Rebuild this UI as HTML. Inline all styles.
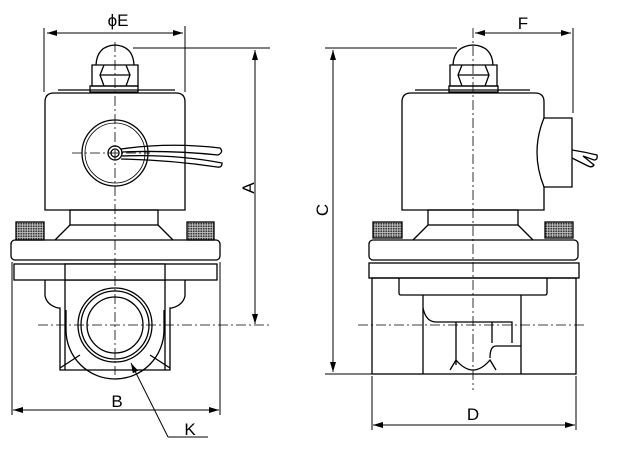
<!DOCTYPE html>
<html><head><meta charset="utf-8"><style>
html,body{margin:0;padding:0;background:#fff}
svg{display:block}
text{font-family:"Liberation Sans",sans-serif;fill:#000}
</style></head><body>
<svg width="621" height="463" viewBox="0 0 621 463" xmlns="http://www.w3.org/2000/svg">
<defs>
<pattern id="kn" width="2.5" height="2.5" patternUnits="userSpaceOnUse"><rect width="2.5" height="2.5" fill="#bbb"/><circle cx="1.25" cy="1.25" r="0.9" fill="#333"/></pattern>
<marker id="ar" viewBox="0 0 10 6" refX="10" refY="3" markerWidth="10" markerHeight="6" orient="auto-start-reverse" markerUnits="userSpaceOnUse"><path d="M0,0L10,3L0,6z" fill="#000"/></marker>
</defs>
<g fill="none" stroke="#000" stroke-width="1.3">
<line x1="44" y1="28" x2="44" y2="92" stroke-width="1"/>
<line x1="185" y1="26" x2="185" y2="92" stroke-width="1"/>
<line x1="47" y1="33" x2="183" y2="33" stroke-width="1" marker-start="url(#ar)" marker-end="url(#ar)"/>
<line x1="133" y1="48" x2="270" y2="48" stroke-width="1"/>
<line x1="255" y1="50" x2="255" y2="324" stroke-width="1" marker-start="url(#ar)" marker-end="url(#ar)"/>
<line x1="12" y1="262" x2="12" y2="415" stroke-width="1"/>
<line x1="220" y1="262" x2="220" y2="415" stroke-width="1"/>
<line x1="13" y1="410" x2="219" y2="410" stroke-width="1" marker-start="url(#ar)" marker-end="url(#ar)"/>
<polyline points="168,437 208,437" stroke-width="1"/>
<line x1="168" y1="437" x2="131" y2="363" stroke-width="1" marker-end="url(#ar)"/>
<path d="M96,65 Q97,46 115,45 Q133,46 134,65"/>
<path d="M92,65 H138 V86 H92 Z M104,65 L100,75 L104,86 M126,65 L130,75 L126,86 M100,75 H130"/>
<rect x="90" y="86" width="48" height="6"/>
<line x1="58" y1="90" x2="175" y2="90"/>
<path d="M45,210 V102 Q45,93 54,93 H176 Q185,93 185,102 V210 Z"/>
<circle cx="115" cy="153" r="33"/>
<circle cx="115" cy="153" r="30" stroke-width="0.8"/>
<circle cx="115" cy="153" r="7"/>
<circle cx="115" cy="153" r="4"/>
<path d="M121,149 Q170,142 220,148 Q224,152 218,155 Q170,150 122,152"/>
<path d="M122,156 Q175,154 222,163 Q222,168 217,167 Q170,160 121,159"/>
<rect x="70" y="210" width="88" height="15"/>
<path d="M70,225 L55,240 M158,225 L173,240"/>
<rect x="16" y="222" width="28" height="18" fill="url(#kn)"/>
<rect x="187" y="222" width="27" height="18" fill="url(#kn)"/>
<rect x="11" y="240" width="209" height="20" rx="4"/>
<rect x="14" y="264" width="203" height="16"/>
<rect x="65" y="264" width="100" height="16" fill="#fff"/>
<path d="M45,280 V296 Q47,305 58,308 H60 V370 H170 V308 H172 Q183,305 185,296 V280"/>
<path d="M65,280 V370 M165,280 V370"/>
<path d="M66,310 V330 A49,49 0 0 0 164,330 V310"/>
<path d="M60,368 L80,355 M170,368 L150,355"/>
<circle cx="115" cy="325" r="37"/>
<circle cx="115" cy="325" r="34"/>
<circle cx="115" cy="325" r="28"/>
<line x1="573" y1="28" x2="573" y2="113" stroke-width="1"/>
<line x1="475" y1="33" x2="571" y2="33" stroke-width="1" marker-start="url(#ar)" marker-end="url(#ar)"/>
<line x1="325" y1="48" x2="457" y2="48" stroke-width="1"/>
<line x1="325" y1="374" x2="372" y2="374" stroke-width="1"/>
<line x1="333" y1="50" x2="333" y2="372" stroke-width="1" marker-start="url(#ar)" marker-end="url(#ar)"/>
<line x1="372" y1="376" x2="372" y2="430" stroke-width="1"/>
<line x1="576" y1="376" x2="576" y2="430" stroke-width="1"/>
<line x1="373" y1="425" x2="575" y2="425" stroke-width="1" marker-start="url(#ar)" marker-end="url(#ar)"/>
<path d="M453,65 Q454,46 473,45 Q492,46 493,65"/>
<path d="M450,65 H497 V86 H450 Z M462,65 L458,75 L462,86 M485,65 L489,75 L485,86 M458,75 H489"/>
<rect x="449" y="86" width="49" height="6"/>
<line x1="415" y1="90" x2="530" y2="90"/>
<path d="M402,210 V102 Q402,93 411,93 H535 Q544,93 544,102 V210 Z"/>
<path d="M544,118 H572 V187 H544 Q530,152 544,118 Z" fill="#fff"/>
<path d="M572,150 Q585,152 597,155 Q598,160 594,160 L583,156 L594,165 Q592,168 588,166 L572,158"/>
<rect x="428" y="210" width="90" height="15"/>
<path d="M428,225 L413,240 M518,225 L533,240"/>
<rect x="373" y="222" width="29" height="16" fill="url(#kn)"/>
<rect x="545" y="222" width="28" height="16" fill="url(#kn)"/>
<rect x="369" y="240" width="209" height="20" rx="4"/>
<rect x="369" y="263" width="210" height="15"/>
<rect x="372" y="278" width="204" height="96"/>
<path d="M399,278 V293 Q399,295 401,295 H545 Q547,295 547,293 V278"/>
<path d="M423,295 V374 M521,295 V374"/>
<path d="M423,308 Q426,322 436,322 H512 V343"/>
<path d="M456,322 V365 M492,322 V343"/>
<path d="M490,358 Q490,346 496,346 H521"/>
<path d="M450,370 L456,360 Q473,380 490,360 L496,370"/>
</g>
<g stroke="#000" stroke-width="0.8" stroke-dasharray="10,3,2,3" fill="none">
<line x1="115" y1="42" x2="115" y2="375"/>
<line x1="38" y1="325" x2="270" y2="325"/>
<line x1="72" y1="153" x2="150" y2="153"/>
<line x1="473" y1="28" x2="473" y2="390"/>
<line x1="358" y1="325" x2="585" y2="325"/>
</g>
<text x="118" y="26" font-size="17" text-anchor="middle">ϕE</text>
<text x="117" y="407" font-size="17" text-anchor="middle">B</text>
<text x="190" y="435" font-size="17" text-anchor="middle">K</text>
<text x="523" y="29" font-size="17" text-anchor="middle">F</text>
<text x="473" y="420" font-size="17" text-anchor="middle">D</text>
<text font-size="17" text-anchor="middle" transform="translate(254,188) rotate(-90)">A</text>
<text font-size="17" text-anchor="middle" transform="translate(328,210) rotate(-90)">C</text>
</svg>
</body></html>
